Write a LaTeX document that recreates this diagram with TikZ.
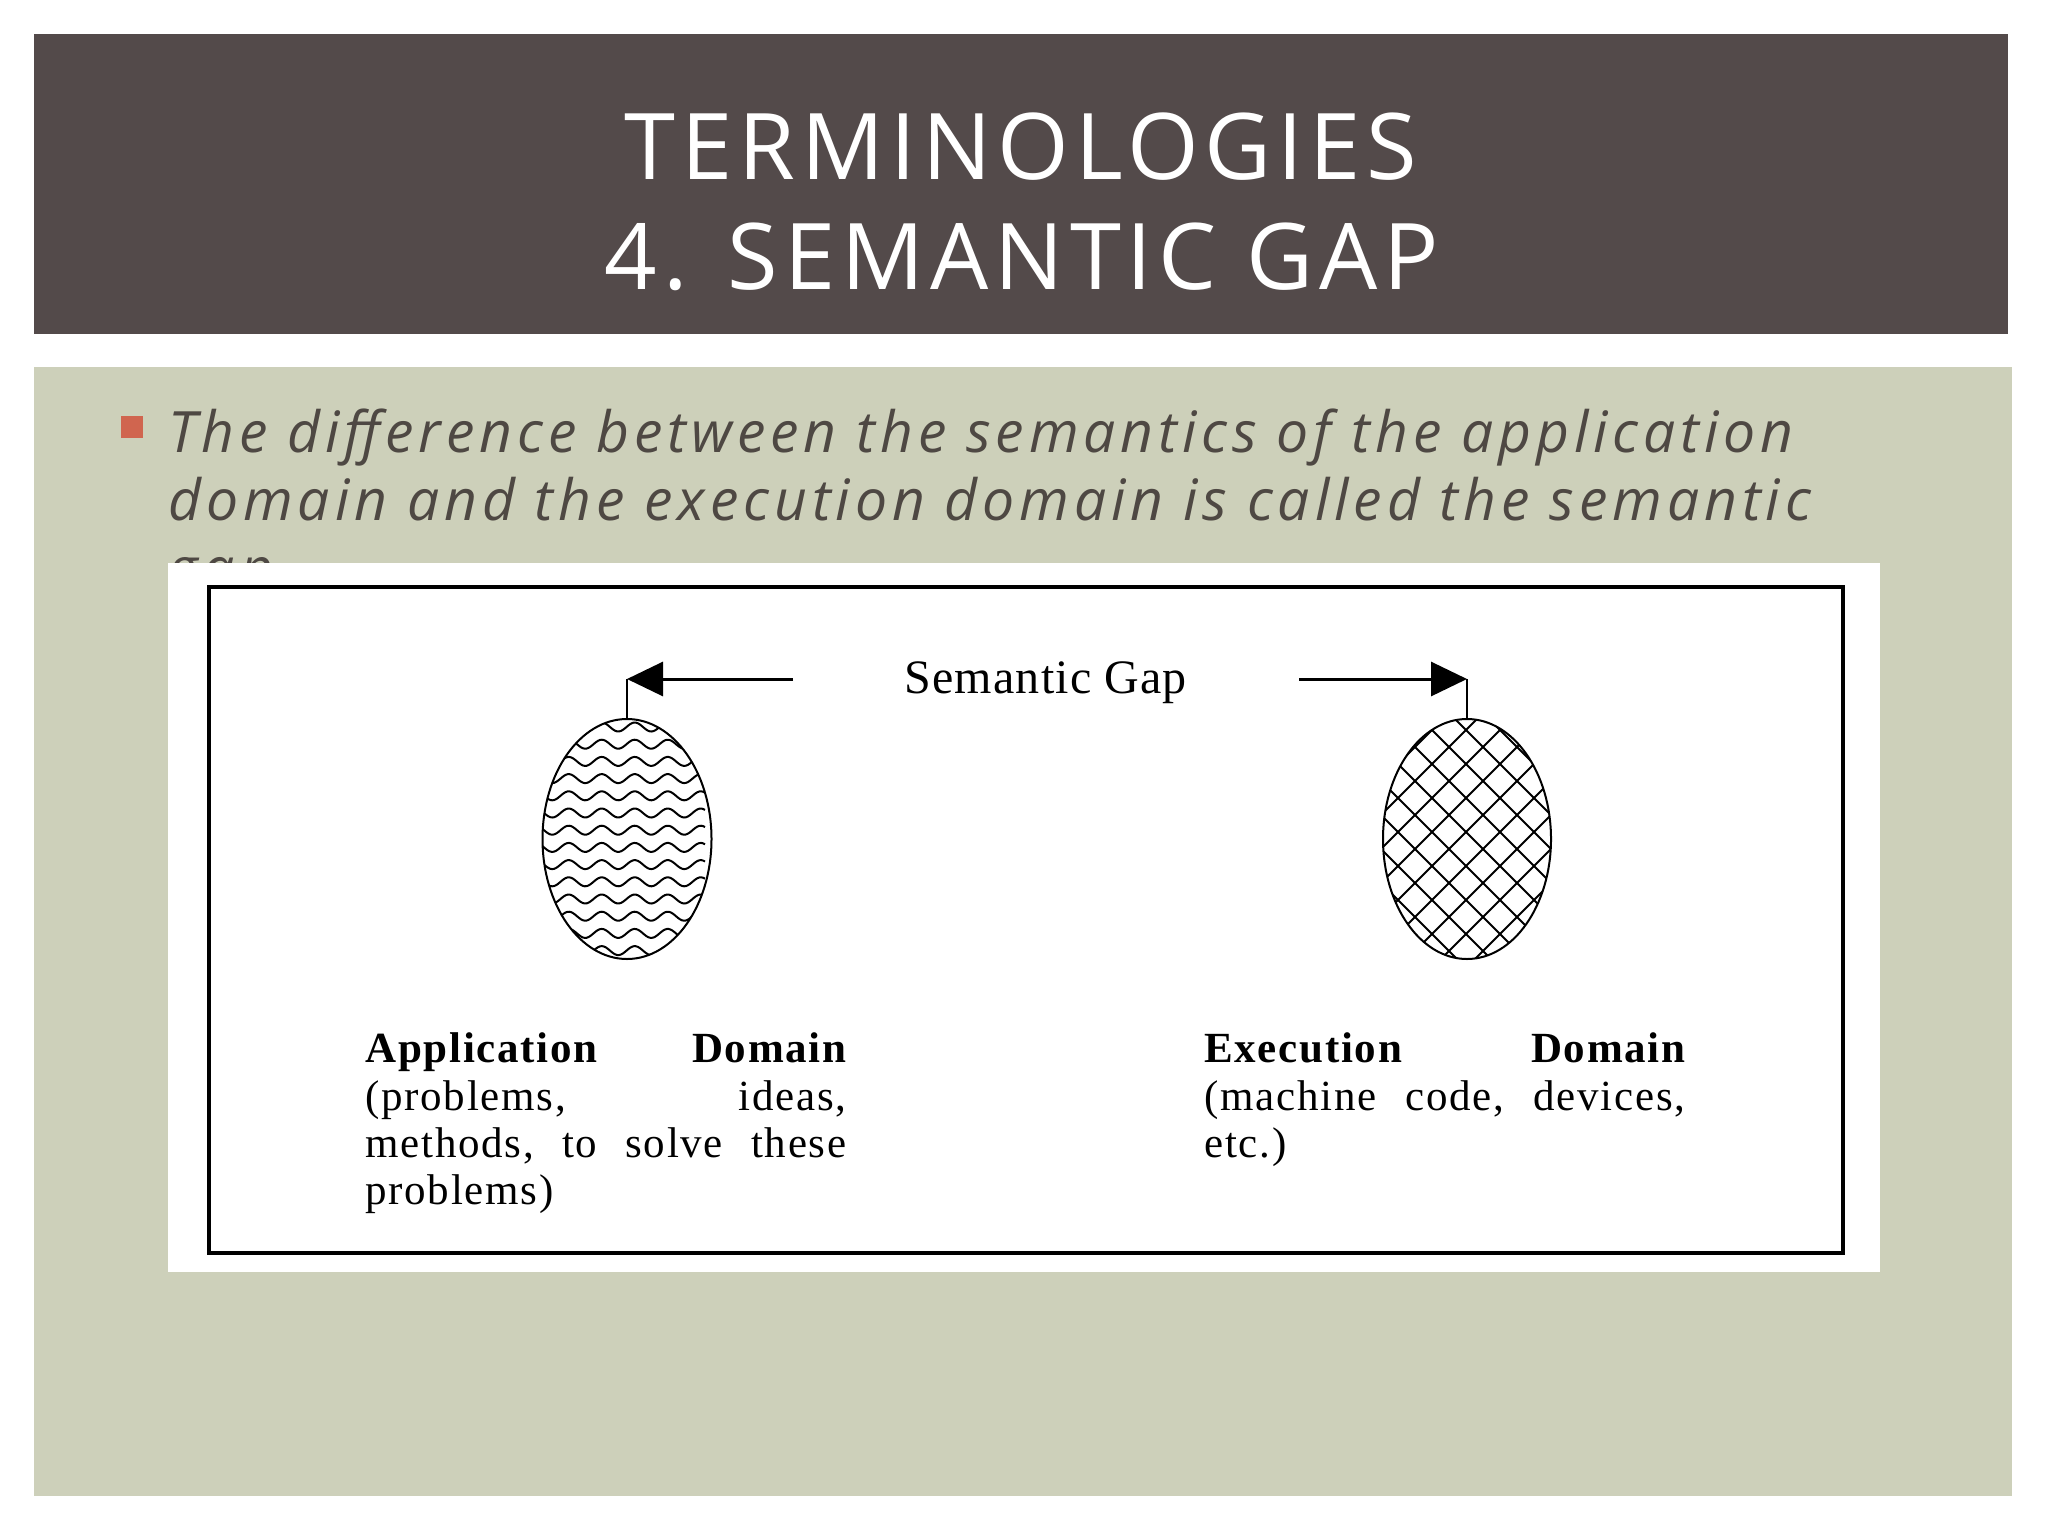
\documentclass[tikz,border=0pt]{standalone}
\usepackage{fontspec}
\setmainfont{Open Sans}
\newfontfamily\titlefont[LetterSpace=6.5]{Open Sans}
\newfontfamily\bodyfont[LetterSpace=8.7]{Open Sans}
\newfontfamily\seriffont[LetterSpace=4]{Liberation Serif}
\newfontfamily\gapfont[LetterSpace=2.5]{Liberation Serif}
\usetikzlibrary{shapes.geometric,arrows.meta}
\definecolor{hdr}{RGB}{83,74,74}
\definecolor{bodybg}{RGB}{205,208,186}
\definecolor{txt}{RGB}{78,72,67}
\definecolor{bul}{RGB}{208,101,79}
\tikzset{
  titletext/.style={anchor=base,inner sep=0pt,text=white,font=\titlefont\fontsize{46pt}{55pt}\selectfont},
  bodytext/.style={anchor=base west,inner sep=0pt,text=txt,font=\bodyfont\itshape\fontsize{28.5pt}{34pt}\selectfont},
  figtext/.style={anchor=base west,inner sep=0pt,text=black,font=\seriffont\fontsize{21.5pt}{24pt}\selectfont},
  gaptext/.style={anchor=base west,inner sep=0pt,text=black,font=\gapfont\fontsize{24pt}{28pt}\selectfont},
  domnode/.style={ellipse,draw=black,line width=1pt,minimum width=84.5pt,minimum height=120pt,inner sep=0pt},
  wavel/.style={line width=1pt,black},
  hatchl/.style={line width=1pt,black},
  stem/.style={line width=1.25pt,black},
  gaparrow/.style={line width=1.5pt,black,-{Triangle[length=18pt,width=17pt]}}
}
\begin{document}
\begin{tikzpicture}[x=0.5pt,y=-0.5pt]
\useasboundingbox (0,0) rectangle (2048,1536);
\fill[white] (0,0) rectangle (2048,1536);
% header
\fill[hdr] (34,34) rectangle (2008,334);
\node[titletext] (t1) at (1021,179) {TERMINOLOGIES};
\node[titletext] (t2) at (1022,289) {4. SEMANTIC GAP};
% body
\fill[bodybg] (34,367) rectangle (2012,1496);
\fill[bul] (121,416) rectangle (143,438);
\node[bodytext] (b1) at (168,452) {The difference between the semantics of the application};
\node[bodytext] (b2) at (168,520) {domain and the execution domain is called the semantic};
\begin{scope}
\clip (34,367) rectangle (2012,563);
\node[bodytext] (b3) at (168,588) {gap.};
\end{scope}
% figure
\fill[white] (168,563) rectangle (1880,1272);
\draw[line width=2pt] (209,587) rectangle (1843,1253);
% wave pattern
\begin{scope}
\clip (627,839) ellipse [x radius=42.25pt, y radius=60pt];
\foreach \r in {0,...,14} {
  \draw[wavel] plot[domain=-75:95,samples=90] ({610+\x},{727+\r*17.2+4.5*sin(10.909*\x)});
}
\end{scope}
% cross hatch
\begin{scope}
\clip (1467,839) ellipse [x radius=42pt, y radius=60pt];
\foreach \n in {-10,...,3} {
  \draw[hatchl] ({736+34*\n+700},700) -- ({736+34*\n+980},980);
}
\foreach \n in {-3,...,10} {
  \draw[hatchl] ({2196+34*\n-700},700) -- ({2196+34*\n-980},980);
}
\end{scope}
\node[domnode] (appl) at (627,839) {};
\node[domnode,minimum width=84pt] (exec) at (1467,839) {};
\node[gaptext] (gap) at (904,693) {Semantic Gap};
\coordinate (ls) at (793,679);
\coordinate (rs) at (1299,679);
\draw[stem] (appl.north) -- (appl.north |- ls);
\draw[gaparrow] (ls) -- (appl.north |- ls);
\draw[stem] (exec.north) -- (exec.north |- rs);
\draw[gaparrow] (rs) -- (exec.north |- rs);
% captions
\node[figtext] (a1) at (365,1062) {\hbox to 240.5pt{\bfseries Application\hfill Domain}};
\node[figtext] (a2) at (365,1110) {\hbox to 240.5pt{(problems,\hfill ideas,}};
\node[figtext] (a3) at (365,1157) {\hbox to 240.5pt{methods,\hfill to\hfill solve\hfill these}};
\node[figtext] (a4) at (365,1204) {problems)};
\node[figtext] (e1) at (1204,1062) {\hbox to 240.5pt{\bfseries Execution\hfill Domain}};
\node[figtext] (e2) at (1204,1110) {\hbox to 240.5pt{(machine\hfill code,\hfill devices,}};
\node[figtext] (e3) at (1204,1157) {etc.)};
\end{tikzpicture}
\end{document}
